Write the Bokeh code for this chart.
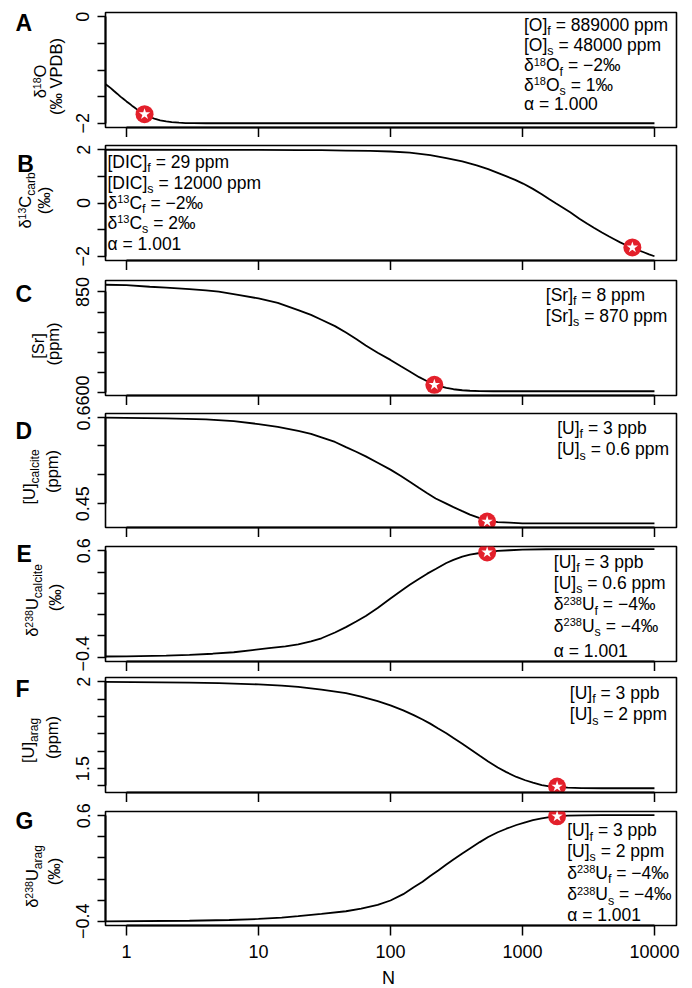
import math
from bokeh.plotting import figure
from bokeh.models import Range1d, FixedTicker, Label, CustomJSTickFormatter
from bokeh.layouts import column, row
from bokeh.embed import file_html
from bokeh.resources import INLINE

# ---------------- data ----------------
N_A = [0.69, 0.72, 0.76, 0.8, 0.85, 0.9, 0.95, 1.0, 1.05, 1.1, 1.15, 1.2, 1.25, 1.3, 1.37,
       1.45, 1.55, 1.65, 1.8, 2.0, 2.2, 2.5, 2.8, 3.2, 4, 6, 10000]
V_A = [-1.26, -1.295, -1.34, -1.39, -1.445, -1.50, -1.545, -1.59, -1.63, -1.67, -1.705, -1.74,
       -1.77, -1.80, -1.83, -1.865, -1.895, -1.92, -1.945, -1.965, -1.978, -1.99, -1.996,
       -1.999, -2.0, -2.0, -2.0]

N_B = [0.69, 5, 10, 20, 30, 46, 70, 100, 140, 200, 265, 350, 450, 550, 635, 750, 880, 1010,
       1200, 1400, 1600, 1800, 2000, 2300, 2700, 3100, 3500, 4000, 4500, 5000, 5500, 6000,
       6800, 7500, 8300, 9100, 10000]
V_B = [2.0, 1.998, 1.995, 1.99, 1.985, 1.97, 1.955, 1.935, 1.89, 1.80, 1.69, 1.56, 1.41, 1.27,
       1.15, 1.01, 0.87, 0.73, 0.53, 0.33, 0.14, -0.02, -0.16, -0.35, -0.59, -0.78, -0.94,
       -1.11, -1.25, -1.37, -1.48, -1.57, -1.68, -1.77, -1.85, -1.93, -2.0]

N_C = [0.69, 1, 1.5, 2, 3, 4, 5, 7, 10, 14, 20, 25, 30, 38, 46, 55, 65, 80, 100, 120, 140,
       165, 190, 215, 240, 265, 300, 350, 400, 475, 600, 800, 10000]
V_C = [868, 867, 863, 861, 857, 854, 851, 843, 834, 823, 805, 793, 781, 765, 749, 733, 717,
       699, 681, 665, 652, 638, 628, 620, 615, 611.5, 608, 605.5, 604.2, 603.4, 603, 603, 603]

N_D = [0.69, 2, 4, 6.5, 10, 14, 20, 25, 30, 38, 46, 55, 65, 80, 100, 120, 140, 165, 190, 220,
       265, 300, 350, 400, 475, 540, 650, 800, 1000, 10000]
V_D = [0.599, 0.598, 0.596, 0.593, 0.588, 0.583, 0.576, 0.571, 0.565, 0.557, 0.548, 0.540,
       0.532, 0.521, 0.509, 0.498, 0.488, 0.477, 0.468, 0.459, 0.450, 0.444, 0.437, 0.431,
       0.425, 0.421, 0.418, 0.417, 0.416, 0.416]

N_E = [0.69, 1, 2, 3, 4.5, 6.5, 9, 12, 16, 20, 25, 30, 38, 46, 55, 65, 80, 100, 120, 140, 165,
       190, 220, 265, 300, 350, 400, 475, 540, 650, 800, 1000, 1500, 2500, 10000]
V_E = [-0.393, -0.392, -0.385, -0.378, -0.367, -0.353, -0.333, -0.315, -0.297, -0.279, -0.252,
       -0.222, -0.168, -0.117, -0.065, -0.013, 0.062, 0.152, 0.222, 0.280, 0.338, 0.385, 0.428,
       0.485, 0.515, 0.545, 0.563, 0.579, 0.588, 0.598, 0.605, 0.610, 0.614, 0.616, 0.616]

N_F = [0.69, 3, 5, 10, 15, 20, 30, 46, 60, 80, 100, 125, 150, 175, 200, 230, 265, 300, 350,
       400, 475, 550, 650, 755, 900, 1050, 1200, 1400, 1600, 1830, 2200, 2800, 4000, 10000]
V_F = [1.999, 1.995, 1.992, 1.985, 1.978, 1.970, 1.955, 1.935, 1.915, 1.888, 1.864, 1.835,
       1.808, 1.783, 1.759, 1.731, 1.703, 1.676, 1.643, 1.613, 1.574, 1.541, 1.506, 1.480,
       1.452, 1.433, 1.419, 1.405, 1.398, 1.394, 1.390, 1.388, 1.387, 1.387]

N_G = [0.69, 3, 6, 10, 15, 20, 30, 46, 60, 80, 100, 125, 150, 175, 200, 230, 265, 300, 350,
       400, 475, 550, 650, 755, 900, 1050, 1200, 1400, 1600, 1830, 2200, 2800, 4000, 10000]
V_G = [-0.400, -0.395, -0.388, -0.378, -0.366, -0.352, -0.330, -0.305, -0.281, -0.245, -0.203,
       -0.143, -0.078, -0.025, 0.028, 0.082, 0.138, 0.186, 0.243, 0.290, 0.350, 0.398, 0.443,
       0.477, 0.512, 0.538, 0.558, 0.575, 0.586, 0.594, 0.600, 0.604, 0.606, 0.606]

CURVES_N = [N_A, N_B, N_C, N_D, N_E, N_F, N_G]
CURVES_V = [V_A, V_B, V_C, V_D, V_E, V_F, V_G]

STAR_N = [1.37, 6800, 215, 540, 540, 1830, 1830]
STAR_V = [-1.83, -1.67, 619, 0.419, 0.584, 1.397, 0.594]

X_TICKS = [1, 10, 100, 1000, 10000]
Y_LABELED = [[-2, 0], [-2, 0, 2], [600, 850], [0.45, 0.6], [-0.4, 0.6], [1.5, 2.0], [-0.4, 0.6]]
Y_MINOR = [[-1.5, -1, -0.5], [-1, 1], [650, 700, 750, 800], [0.5, 0.55],
           [-0.2, 0, 0.2, 0.4], [1.4, 1.6, 1.7, 1.8, 1.9], [-0.2, 0, 0.2, 0.4]]
Y_RANGES = [(-2.08, 0.08), (-2.16, 2.16), (592.4, 878.6), (0.4087, 0.6063),
            (-0.44, 0.64), (1.3625, 2.0245), (-0.44, 0.64)]
X_LABEL = "N"
LETTERS = ["A", "B", "C", "D", "E", "F", "G"]

# text segments: (text, kind) kind n=normal, b=subscript, p=superscript
YLAB1 = [
    [("δ", "n"), ("18", "p"), ("O", "n")],
    [("δ", "n"), ("13", "p"), ("C", "n"), ("carb", "b")],
    [("[Sr]", "n")],
    [("[U]", "n"), ("calcite", "b")],
    [("δ", "n"), ("238", "p"), ("U", "n"), ("calcite", "b")],
    [("[U]", "n"), ("arag", "b")],
    [("δ", "n"), ("238", "p"), ("U", "n"), ("arag", "b")],
]
YLAB2 = ["(‰ VPDB)", "(‰)", "(ppm)", "(ppm)", "(‰)", "(ppm)", "(‰)"]

NOTES = [
    [[("[O]", "n"), ("f", "b"), (" = 889000 ppm", "n")],
     [("[O]", "n"), ("s", "b"), (" = 48000 ppm", "n")],
     [("δ", "n"), ("18", "p"), ("O", "n"), ("f", "b"), (" = −2‰", "n")],
     [("δ", "n"), ("18", "p"), ("O", "n"), ("s", "b"), (" = 1‰", "n")],
     [("α = 1.000", "n")]],
    [[("[DIC]", "n"), ("f", "b"), (" = 29 ppm", "n")],
     [("[DIC]", "n"), ("s", "b"), (" = 12000 ppm", "n")],
     [("δ", "n"), ("13", "p"), ("C", "n"), ("f", "b"), (" = −2‰", "n")],
     [("δ", "n"), ("13", "p"), ("C", "n"), ("s", "b"), (" = 2‰", "n")],
     [("α = 1.001", "n")]],
    [[("[Sr]", "n"), ("f", "b"), (" = 8 ppm", "n")],
     [("[Sr]", "n"), ("s", "b"), (" = 870 ppm", "n")]],
    [[("[U]", "n"), ("f", "b"), (" = 3 ppb", "n")],
     [("[U]", "n"), ("s", "b"), (" = 0.6 ppm", "n")]],
    [[("[U]", "n"), ("f", "b"), (" = 3 ppb", "n")],
     [("[U]", "n"), ("s", "b"), (" = 0.6 ppm", "n")],
     [("δ", "n"), ("238", "p"), ("U", "n"), ("f", "b"), (" = −4‰", "n")],
     [("δ", "n"), ("238", "p"), ("U", "n"), ("s", "b"), (" = −4‰", "n")],
     [("α = 1.001", "n")]],
    [[("[U]", "n"), ("f", "b"), (" = 3 ppb", "n")],
     [("[U]", "n"), ("s", "b"), (" = 2 ppm", "n")]],
    [[("[U]", "n"), ("f", "b"), (" = 3 ppb", "n")],
     [("[U]", "n"), ("s", "b"), (" = 2 ppm", "n")],
     [("δ", "n"), ("238", "p"), ("U", "n"), ("f", "b"), (" = −4‰", "n")],
     [("δ", "n"), ("238", "p"), ("U", "n"), ("s", "b"), (" = −4‰", "n")],
     [("α = 1.001", "n")]],
]

# ---------------- layout (page pixels) ----------------
FONT = "Liberation Sans"
RED = "#E3202B"
TOTAL_W, TOTAL_H = 692, 988
STRIP_H = 22          # bottom strip holding the x-axis title
MAIN_H = TOTAL_H - STRIP_H
LAB_W = 66
FRAME_L, FRAME_R = 105, 676
FRAME_T = [12, 145, 280, 413, 546, 677, 811]
FRAME_B = [127, 260, 395, 527, 661, 792, 925]
FIG_S = [0] + [b + 10 for b in FRAME_B[:-1]]
FIG_E = FIG_S[1:] + [MAIN_H]
XMIN, XMAX = 0.6934, 14689.0
MID = 0.35  # baseline offset of a "middle"-anchored text, in em

NOTE_X = [523.5, 107, 545.3, 556.7, 553.3, 569.3, 566.7]
NOTE_Y = [[30.7, 50.7, 71, 90.7, 110], [167.7, 188.3, 208.3, 228.3, 250], [300.7, 321.7],
          [433.3, 455], [567.3, 588.3, 610, 631.7, 656.7], [698.3, 720],
          [836, 856.7, 878.3, 900, 920.7]]
YL1_BX = [45.5, 30.5, 43.5, 34, 37.5, 33, 37.5]
YL2_BX = [61, 49.5, 58.5, 57, 60, 57.5, 59.5]
YL1_CY = [81, 200, 345.5, 476.5, 600, 740, 876]
YL2_CY = [76, 200, 343.5, 471, 597, 737, 871]
LET_X = [15, 16.7, 15, 15, 16, 15, 15]
LET_Y = [30.7, 171.7, 301.7, 438.3, 561.7, 696.7, 828.3]
XLAB_X, XLAB_MID = 388, 977

W = {'[': 278, ']': 278, '(': 333, ')': 333, 'O': 778, 'D': 722, 'I': 278, 'C': 722,
     'S': 667, 'U': 722, 'V': 667, 'P': 667, 'B': 667, 'N': 722, 'r': 333, 'f': 278,
     's': 500, 'p': 556, 'm': 833, 'b': 556, 'c': 500, 'a': 556, 'l': 222, 'i': 222,
     't': 278, 'e': 556, 'g': 556, ' ': 278, '=': 584, '.': 278, '−': 584, '‰': 1000,
     'δ': 556, 'α': 578}


def tw(text, size):
    return sum(W.get(c, 556) for c in text) / 1000.0 * size


def xd(px):
    l0, l1 = math.log10(XMIN), math.log10(XMAX)
    return 10 ** (l0 + (px - FRAME_L) / (FRAME_R - FRAME_L) * (l1 - l0))


def yd(i, py):
    y0, y1 = Y_RANGES[i]
    return y1 - (py - FRAME_T[i]) / (FRAME_B[i] - FRAME_T[i]) * (y1 - y0)


K_NOTE = {"n": (17.5, 0), "b": (12.5, 4.5), "p": (11, -6)}
K_LAB = {"n": (16.5, 0), "b": (12, 4.5), "p": (10.5, -5.5)}


def label(p, x, y, text, size, angle=0.0, bold=False, align="left"):
    p.add_layout(Label(x=x, y=y, text=text, text_font=FONT, text_font_size=f"{size}px",
                       text_color="black", text_baseline="middle", text_align=align,
                       angle=angle, text_font_style="bold" if bold else "normal"))


def hline(p, i, px, py, segs):
    for t, k in segs:
        s, dy = K_NOTE[k]
        lead = len(t) - len(t.lstrip(" "))
        px += tw(" " * lead, s)
        t = t.lstrip(" ")
        label(p, xd(px), yd(i, py + dy - MID * s), t, s)
        px += tw(t, s)


def blank(width, height, y0, y1):
    f = figure(width=width, height=height, x_range=Range1d(0, width),
               y_range=Range1d(y1, y0), output_backend="svg", toolbar_location=None,
               title=None, x_axis_location=None, y_axis_location=None,
               min_border_left=0, min_border_right=0, min_border_top=0, min_border_bottom=0)
    f.outline_line_color = None
    f.xgrid.grid_line_color = None
    f.ygrid.grid_line_color = None
    f.background_fill_color = "white"
    f.border_fill_color = "white"
    return f


# ---- left strip: y-axis titles and panel letters (page pixel coordinates) ----
lab = blank(LAB_W, MAIN_H, 0, MAIN_H)


def vline(bx, cy, segs):
    total = sum(tw(t, K_LAB[k][0]) for t, k in segs)
    py = cy + total / 2.0
    for t, k in segs:
        s, dx = K_LAB[k]
        label(lab, bx + dx - MID * s, py, t, s, angle=math.pi / 2)
        py -= tw(t, s)


for i in range(7):
    vline(YL1_BX[i], YL1_CY[i], YLAB1[i])
    vline(YL2_BX[i], YL2_CY[i], [(YLAB2[i], "n")])
    label(lab, LET_X[i], LET_Y[i] - MID * 23, LETTERS[i], 23, bold=True)

# ---- bottom strip: x-axis title ----
bot = blank(TOTAL_W, STRIP_H, MAIN_H, TOTAL_H)
label(bot, XLAB_X, XLAB_MID, X_LABEL, 18, align="center")

fmt = CustomJSTickFormatter(code="""
const s = Math.abs(tick).toString();
return tick < 0 ? "\\u2212" + s : s;
""")

figs = []
for i in range(7):
    last = (i == 6)
    h = FIG_E[i] - FIG_S[i]
    p = figure(width=TOTAL_W - LAB_W, height=h, x_axis_type="log",
               x_range=Range1d(XMIN, XMAX), y_range=Range1d(*Y_RANGES[i]),
               output_backend="svg", toolbar_location=None, title=None,
               min_border_left=FRAME_L - LAB_W, min_border_right=TOTAL_W - FRAME_R,
               min_border_top=FRAME_T[i] - FIG_S[i], min_border_bottom=FIG_E[i] - FRAME_B[i])
    p.background_fill_color = "white"
    p.border_fill_color = "white"
    p.xgrid.grid_line_color = None
    p.ygrid.grid_line_color = None
    p.outline_line_color = "black"
    p.outline_line_width = 1.6

    xa = p.xaxis[0]
    xa.ticker = FixedTicker(ticks=X_TICKS, minor_ticks=[])
    xa.bounds = (1, 10000)
    xa.axis_line_width = 2
    xa.major_tick_out = 10
    xa.major_tick_in = 0
    xa.major_tick_line_width = 1.5
    xa.minor_tick_line_color = None
    xa.formatter = fmt
    if last:
        xa.major_label_text_font = FONT
        xa.major_label_text_font_size = "18px"
        xa.major_label_text_color = "black"
        xa.major_label_standoff = 9
    else:
        xa.major_label_text_color = None
        xa.major_label_text_font_size = "0px"
        xa.major_label_standoff = 0

    ya = p.yaxis[0]
    ya.ticker = FixedTicker(ticks=Y_LABELED[i], minor_ticks=Y_MINOR[i])
    ya.bounds = (min(Y_LABELED[i] + Y_MINOR[i]), max(Y_LABELED[i] + Y_MINOR[i]))
    ya.axis_line_width = 2
    ya.major_tick_out = 8
    ya.major_tick_in = 0
    ya.minor_tick_out = 8
    ya.minor_tick_in = 0
    ya.major_tick_line_width = 1.5
    ya.minor_tick_line_width = 1.5
    ya.minor_tick_line_color = "black"
    ya.formatter = fmt
    ya.major_label_orientation = "vertical"
    ya.major_label_text_font = FONT
    ya.major_label_text_font_size = "18px"
    ya.major_label_text_color = "black"
    ya.major_label_standoff = 8

    p.line(CURVES_N[i], CURVES_V[i], line_color="black", line_width=1.8)
    p.scatter([STAR_N[i]], [STAR_V[i]], marker="circle", size=18, fill_color=RED, line_color=None)
    p.scatter([STAR_N[i]], [STAR_V[i]], marker="star", size=12, fill_color="white", line_color=None)

    for j, segs in enumerate(NOTES[i]):
        hline(p, i, NOTE_X[i], NOTE_Y[i][j], segs)
    figs.append(p)

layout = column(row(lab, column(*figs, spacing=0), spacing=0), bot, spacing=0)
open("out.html", "w").write(file_html(layout, INLINE))
